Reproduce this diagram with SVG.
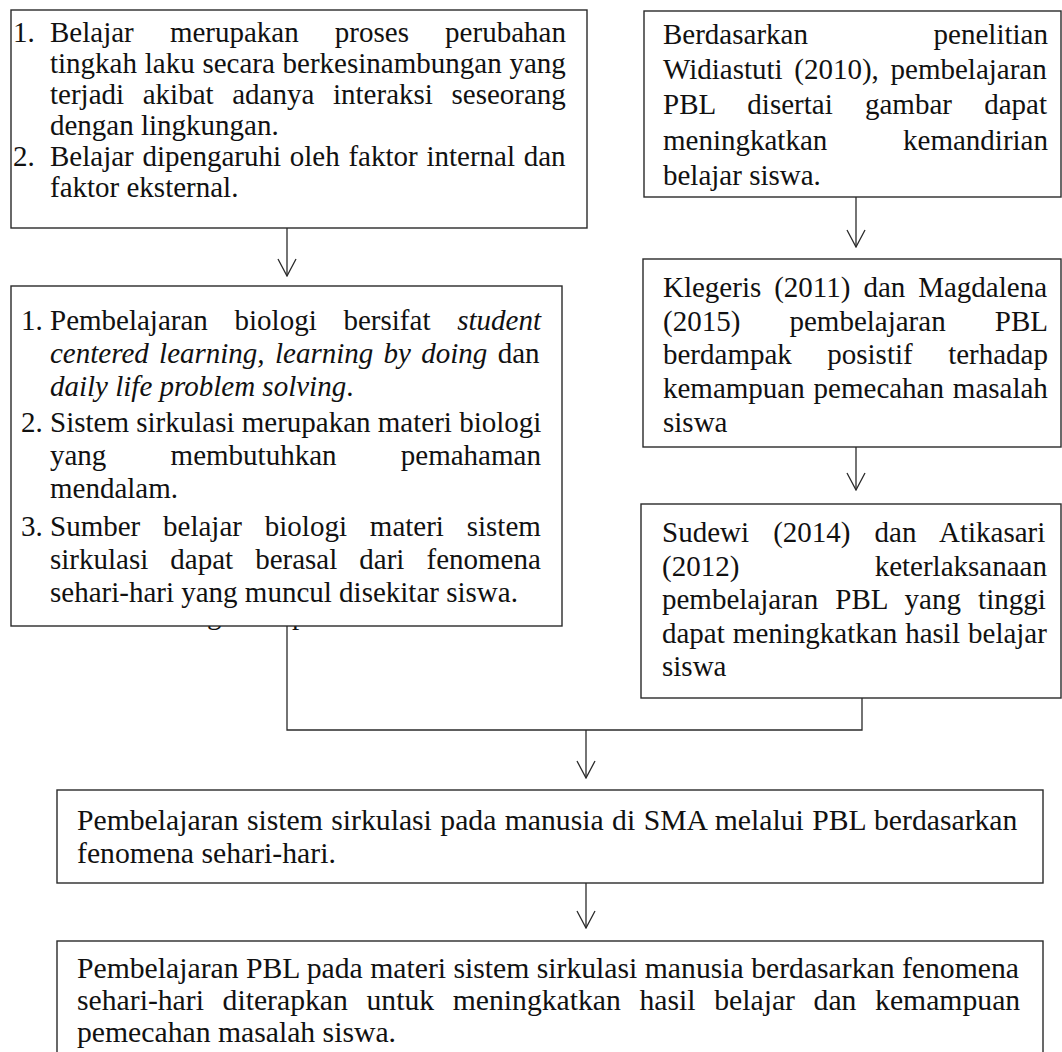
<svg xmlns="http://www.w3.org/2000/svg" width="1062" height="1052" viewBox="0 0 1062 1052">
<defs>
<style>
.box{fill:#fff;stroke:#2a2a2a;stroke-width:1.4}
.t{font-family:"Liberation Serif","Times New Roman",serif;font-size:29px;fill:#111}
.w{font-size:29.7px}
.i{font-style:italic}
.c{fill:none;stroke:#2a2a2a;stroke-width:1.3}
</style>
<marker id="v" viewBox="-19 -10 20 20" refX="0" refY="0" markerWidth="20" markerHeight="20" markerUnits="userSpaceOnUse" orient="auto">
<path d="M-17,-9 L0,0 L-17,9" fill="none" stroke="#2a2a2a" stroke-width="1.3"/>
</marker>
</defs>
<rect width="1062" height="1052" fill="#fff"/>

<g id="hidden-line">
<text class="t" x="207" y="624">g</text>
<text class="t" x="292" y="624">p</text>
</g>

<g id="connectors">
<line class="c" x1="287" y1="228" x2="287" y2="276" marker-end="url(#v)"/>
<line class="c" x1="856" y1="197" x2="856" y2="247" marker-end="url(#v)"/>
<line class="c" x1="856" y1="447" x2="856" y2="490" marker-end="url(#v)"/>
<polyline class="c" points="287,626 287,730 862,730 862,698"/>
<line class="c" x1="586" y1="730" x2="586" y2="778" marker-end="url(#v)"/>
<line class="c" x1="586" y1="883" x2="586" y2="928" marker-end="url(#v)"/>
</g>

<g id="box-belajar">
<rect class="box" x="11" y="10" width="576" height="218"/>
<text class="t" x="13" y="42">1.</text>
<text class="t" x="50" y="42" word-spacing="28.9">Belajar merupakan proses perubahan</text>
<text class="t" x="50" y="73" word-spacing="0.5">tingkah laku secara berkesinambungan yang</text>
<text class="t" x="50" y="104" word-spacing="11.4">terjadi akibat adanya interaksi seseorang</text>
<text class="t" x="50" y="135">dengan lingkungan.</text>
<text class="t" x="13" y="166">2.</text>
<text class="t" x="50" y="166" word-spacing="1.5">Belajar dipengaruhi oleh faktor internal dan</text>
<text class="t" x="50" y="197">faktor eksternal.</text>
</g>

<g id="box-biologi">
<rect class="box" x="11" y="286" width="551" height="340"/>
<text class="t" x="21" y="330">1.</text>
<text class="t" x="50" y="330" word-spacing="19.5">Pembelajaran biologi bersifat <tspan class="i">student</tspan></text>
<text class="t" x="50" y="363" word-spacing="3.1"><tspan class="i">centered learning, learning by doing</tspan> dan</text>
<text class="t" x="50" y="396"><tspan class="i">daily life problem solving</tspan>.</text>
<text class="t" x="21" y="432">2.</text>
<text class="t" x="50" y="432">Sistem sirkulasi merupakan materi biologi</text>
<text class="t" x="50" y="465" word-spacing="57">yang membutuhkan pemahaman</text>
<text class="t" x="50" y="498">mendalam.</text>
<text class="t" x="21" y="536">3.</text>
<text class="t" x="50" y="536" word-spacing="15.6">Sumber belajar biologi materi sistem</text>
<text class="t" x="50" y="569" word-spacing="14.8">sirkulasi dapat berasal dari fenomena</text>
<text class="t" x="50" y="602">sehari-hari yang muncul disekitar siswa.</text>
</g>

<g id="box-widiastuti">
<rect class="box" x="644" y="11" width="417" height="186"/>
<text class="t" x="663" y="44" word-spacing="118.4">Berdasarkan penelitian</text>
<text class="t" x="663" y="79" word-spacing="4.4">Widiastuti (2010), pembelajaran</text>
<text class="t" x="663" y="114" word-spacing="25">PBL disertai gambar dapat</text>
<text class="t" x="663" y="150" word-spacing="68.5">meningkatkan kemandirian</text>
<text class="t" x="663" y="185">belajar siswa.</text>
</g>

<g id="box-klegeris">
<rect class="box" x="643" y="259" width="418" height="188"/>
<text class="t" x="663" y="297" word-spacing="5.7">Klegeris (2011) dan Magdalena</text>
<text class="t" x="663" y="331" word-spacing="41.9">(2015) pembelajaran PBL</text>
<text class="t" x="663" y="364" word-spacing="28.2">berdampak posistif terhadap</text>
<text class="t" x="663" y="398" word-spacing="1.6">kemampuan pemecahan masalah</text>
<text class="t" x="663" y="432">siswa</text>
</g>

<g id="box-sudewi">
<rect class="box" x="641" y="504" width="420" height="194"/>
<text class="t" x="662" y="542" word-spacing="16.9">Sudewi (2014) dan Atikasari</text>
<text class="t" x="662" y="576" word-spacing="128.1">(2012) keterlaksanaan</text>
<text class="t" x="662" y="609" word-spacing="9.9">pembelajaran PBL yang tinggi</text>
<text class="t" x="662" y="643" word-spacing="0.8">dapat meningkatkan hasil belajar</text>
<text class="t" x="662" y="676">siswa</text>
</g>

<g id="box-pembelajaran-sma">
<rect class="box" x="57" y="790" width="986" height="93"/>
<text class="t w" x="77" y="830" word-spacing="1.0">Pembelajaran sistem sirkulasi pada manusia di SMA melalui PBL berdasarkan</text>
<text class="t w" x="77" y="863">fenomena sehari-hari.</text>
</g>

<g id="box-pbl-hasil">
<rect class="box" x="57" y="941" width="986" height="130"/>
<text class="t w" x="77" y="978">Pembelajaran PBL pada materi sistem sirkulasi manusia berdasarkan fenomena</text>
<text class="t w" x="77" y="1010" word-spacing="11.2">sehari-hari diterapkan untuk meningkatkan hasil belajar dan kemampuan</text>
<text class="t w" x="77" y="1042">pemecahan masalah siswa.</text>
</g>
</svg>
